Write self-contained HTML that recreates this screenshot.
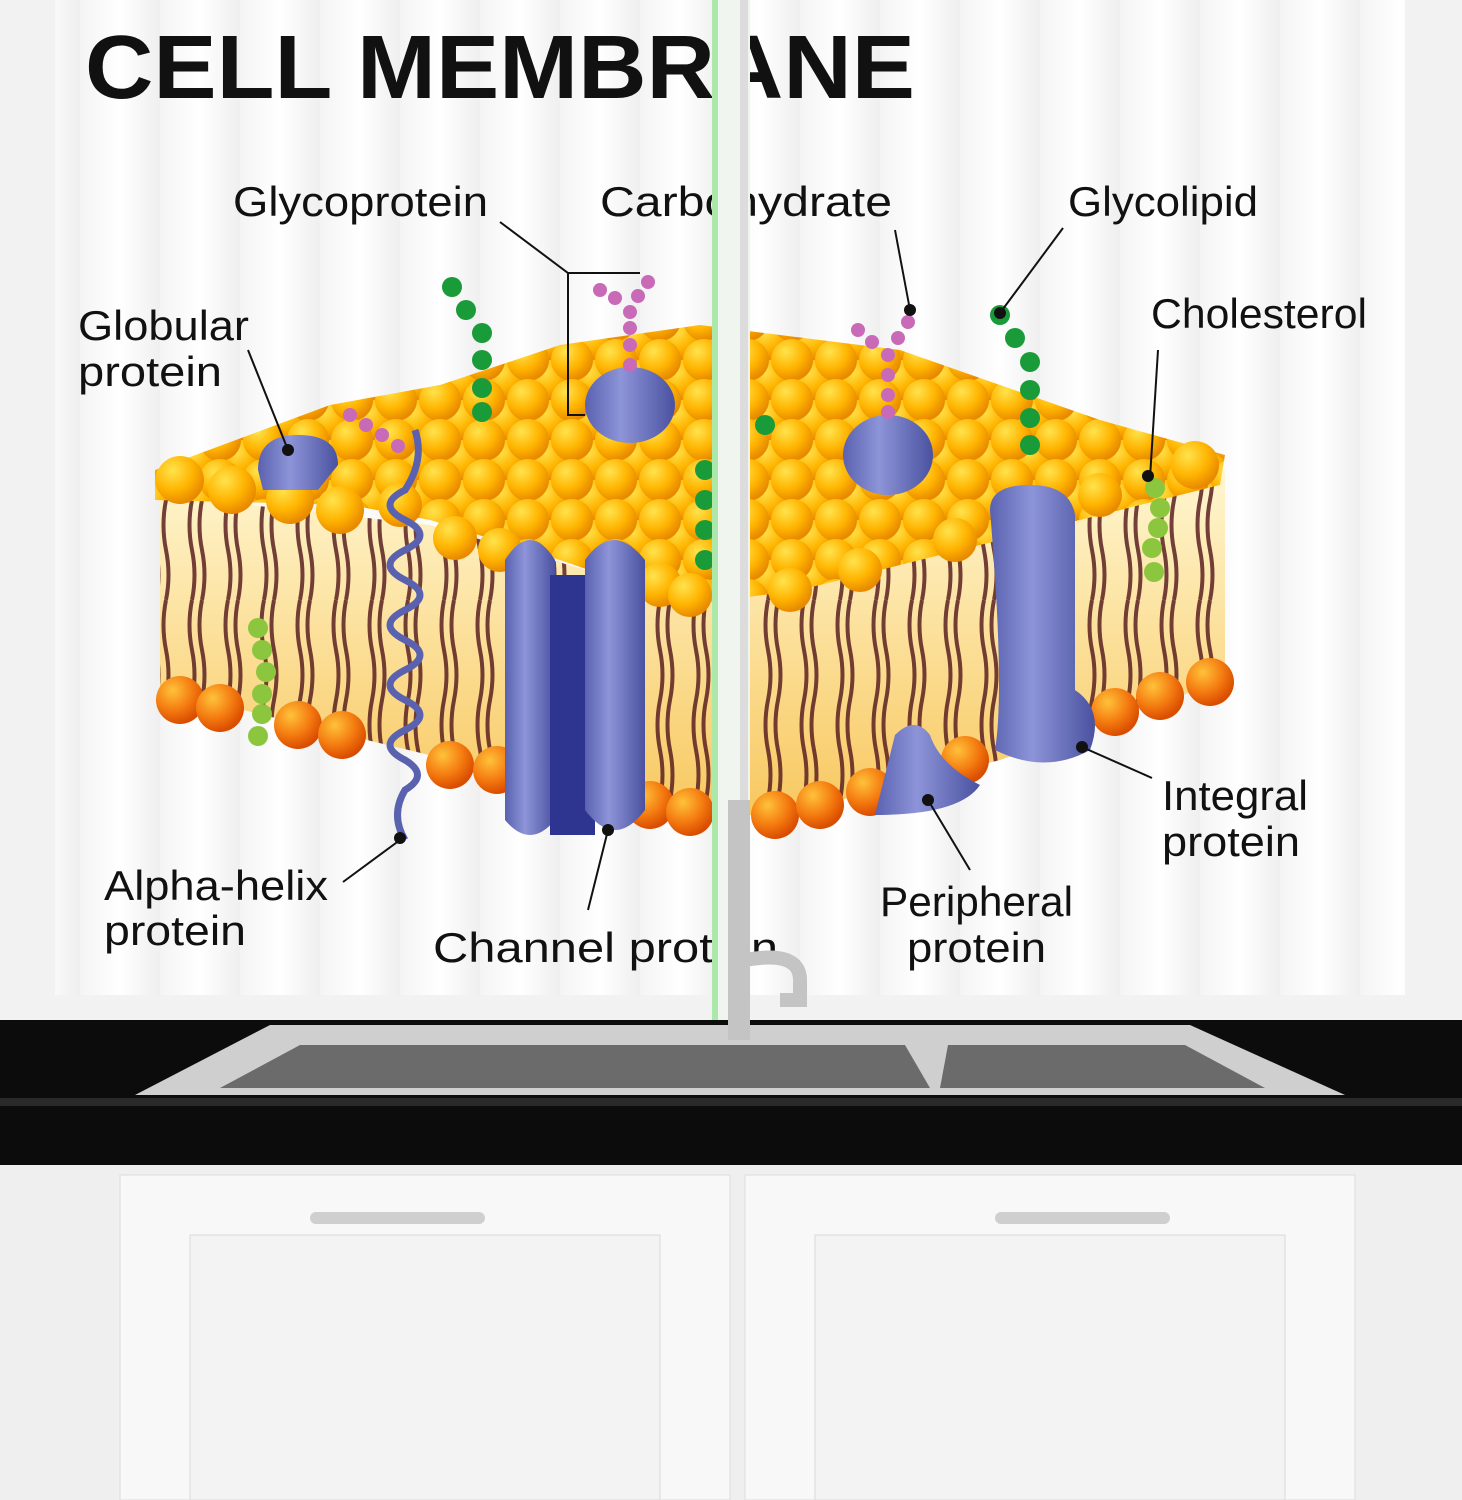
<!DOCTYPE html>
<html><head><meta charset="utf-8"><style>
html,body{margin:0;padding:0;background:#fff;}
svg{display:block;}
text{font-family:"Liberation Sans",sans-serif;fill:#111;}
</style></head><body>
<svg width="1462" height="1500" viewBox="0 0 1462 1500" xmlns="http://www.w3.org/2000/svg">
<defs>
<radialGradient id="ball" cx="0.35" cy="0.3" r="0.7">
<stop offset="0" stop-color="#ffe34d"/><stop offset="0.6" stop-color="#ffb400"/><stop offset="1" stop-color="#e88a00"/></radialGradient>
<radialGradient id="ballr" cx="0.35" cy="0.3" r="0.7">
<stop offset="0" stop-color="#ffc23a"/><stop offset="0.6" stop-color="#f47a10"/><stop offset="1" stop-color="#d94d00"/></radialGradient>
<pattern id="balls" width="44" height="40" patternUnits="userSpaceOnUse">
<rect width="44" height="40" fill="#f0a000"/>
<circle cx="22" cy="20" r="21" fill="url(#ball)"/>
<circle cx="0" cy="0" r="21" fill="url(#ball)"/><circle cx="44" cy="0" r="21" fill="url(#ball)"/>
<circle cx="0" cy="40" r="21" fill="url(#ball)"/><circle cx="44" cy="40" r="21" fill="url(#ball)"/>
</pattern>
<linearGradient id="side" x1="0" y1="0" x2="0" y2="1">
<stop offset="0" stop-color="#fff6d0"/><stop offset="1" stop-color="#f8c860"/></linearGradient>
<linearGradient id="blue" x1="0" y1="0" x2="1" y2="0">
<stop offset="0" stop-color="#5a62b0"/><stop offset="0.4" stop-color="#8d94d8"/><stop offset="1" stop-color="#4a52a0"/></linearGradient>
<pattern id="tails" width="36" height="200" patternUnits="userSpaceOnUse">
<path d="M12 0 q-5 25 0 50 q5 25 0 50 q-5 25 0 50 q5 25 0 50 M22 0 q-5 25 0 50 q5 25 0 50 q-5 25 0 50 q5 25 0 50" stroke="#5a2020" stroke-width="4" fill="none"/>
</pattern>
<linearGradient id="curt" x1="0" y1="0" x2="1" y2="0">
<stop offset="0" stop-color="#f4f4f4"/><stop offset="0.5" stop-color="#ffffff"/><stop offset="1" stop-color="#efefef"/></linearGradient>
<pattern id="folds" width="80" height="1000" patternUnits="userSpaceOnUse"><rect width="80" height="1000" fill="url(#curt)"/></pattern>
</defs>
<rect width="1462" height="1500" fill="#f2f2f2"/>
<rect x="55" y="0" width="1350" height="995" fill="url(#folds)"/>
<rect x="0" y="1020" width="1462" height="145" fill="#0c0c0c"/>
<rect x="0" y="1098" width="1462" height="8" fill="#2a2a2a"/>
<polygon points="135,1095 270,1025 1190,1025 1345,1095" fill="#cfcfcf"/>
<polygon points="220,1088 300,1045 905,1045 930,1088" fill="#6b6b6b"/>
<polygon points="940,1088 948,1045 1185,1045 1265,1088" fill="#6b6b6b"/>
<rect x="0" y="1165" width="1462" height="335" fill="#efefef"/>
<rect x="120" y="1175" width="610" height="325" fill="#f8f8f8" stroke="#dcdcdc"/>
<rect x="745" y="1175" width="610" height="325" fill="#f8f8f8" stroke="#dcdcdc"/>
<rect x="190" y="1235" width="470" height="265" fill="#f3f3f3" stroke="#dadada"/>
<rect x="815" y="1235" width="470" height="265" fill="#f3f3f3" stroke="#dadada"/>
<rect x="310" y="1212" width="175" height="12" rx="6" fill="#cfcfcf"/>
<rect x="995" y="1212" width="175" height="12" rx="6" fill="#cfcfcf"/>
<polygon points="160,495 430,525 690,600 1000,535 1225,470 1225,680 1000,760 780,815 690,815 450,760 160,690" fill="url(#side)"/>
<polygon points="160,495 430,525 690,600 1000,535 1225,470 1225,680 1000,760 780,815 690,815 450,760 160,690" fill="url(#tails)" opacity="0.85"/>
<g fill="url(#ballr)">
<circle cx="180" cy="700" r="24"/><circle cx="220" cy="708" r="24"/><circle cx="298" cy="725" r="24"/><circle cx="342" cy="735" r="24"/>
<circle cx="450" cy="765" r="24"/><circle cx="497" cy="770" r="24"/><circle cx="650" cy="805" r="24"/><circle cx="690" cy="812" r="24"/>
<circle cx="775" cy="815" r="24"/><circle cx="820" cy="805" r="24"/><circle cx="870" cy="792" r="24"/><circle cx="965" cy="760" r="24"/>
<circle cx="1115" cy="712" r="24"/><circle cx="1160" cy="696" r="24"/><circle cx="1210" cy="682" r="24"/>
</g>
<polygon points="155,470 330,405 440,385 560,345 700,325 900,350 1100,420 1225,455 1220,485 1000,540 800,590 690,605 560,560 430,520 350,505 155,500" fill="url(#balls)"/>
<g fill="url(#ball)">
<circle cx="180" cy="480" r="24"/><circle cx="232" cy="490" r="24"/><circle cx="290" cy="500" r="24"/><circle cx="340" cy="510" r="24"/>
<circle cx="400" cy="505" r="22"/><circle cx="455" cy="538" r="22"/><circle cx="500" cy="550" r="22"/><circle cx="660" cy="585" r="22"/><circle cx="690" cy="595" r="22"/>
<circle cx="790" cy="590" r="22"/><circle cx="860" cy="570" r="22"/><circle cx="955" cy="540" r="22"/><circle cx="1100" cy="495" r="22"/><circle cx="1195" cy="465" r="24"/>
</g>
<g fill="#8cc63f"><circle cx="1155" cy="488" r="10"/><circle cx="1160" cy="508" r="10"/><circle cx="1158" cy="528" r="10"/><circle cx="1152" cy="548" r="10"/><circle cx="1154" cy="572" r="10"/>
<circle cx="258" cy="628" r="10"/><circle cx="262" cy="650" r="10"/><circle cx="266" cy="672" r="10"/><circle cx="262" cy="694" r="10"/><circle cx="262" cy="714" r="10"/><circle cx="258" cy="736" r="10"/></g>
<path d="M415 430 q10 30 -10 60 q-30 15 0 30 q30 15 0 30 q-30 15 0 30 q30 15 0 30 q-30 15 0 30 q30 15 0 30 q-30 15 0 30 q30 15 0 30 q-30 15 0 30 q25 15 0 30 q-15 25 0 50" stroke="#5a62b0" stroke-width="7" fill="none"/>
<path d="M505 560 q25 -40 50 0 v260 q-25 30 -50 0 z" fill="url(#blue)"/>
<rect x="550" y="575" width="45" height="260" fill="#2e3590"/>
<path d="M585 560 q28 -40 60 0 v250 q-30 40 -60 0 z" fill="url(#blue)"/>
<path d="M990 510 q0 -25 40 -25 q40 0 45 30 v175 q30 20 15 60 q-45 25 -95 0 q10 -60 -5 -240 z" fill="url(#blue)"/>
<ellipse cx="630" cy="405" rx="45" ry="38" fill="url(#blue)"/>
<ellipse cx="888" cy="455" rx="45" ry="40" fill="url(#blue)"/>
<path d="M258 470 q0 -35 40 -35 q40 0 40 30 l-20 25 h-55 z" fill="url(#blue)"/>
<path d="M875 815 q10 -40 20 -80 q20 -20 35 0 q10 30 50 50 q-20 30 -105 30 z" fill="url(#blue)"/>
<g fill="#1a9b3a">
<circle cx="452" cy="287" r="10"/><circle cx="466" cy="310" r="10"/><circle cx="482" cy="333" r="10"/><circle cx="482" cy="360" r="10"/><circle cx="482" cy="388" r="10"/><circle cx="482" cy="412" r="10"/>
<circle cx="1000" cy="315" r="10"/><circle cx="1015" cy="338" r="10"/><circle cx="1030" cy="362" r="10"/><circle cx="1030" cy="390" r="10"/><circle cx="1030" cy="418" r="10"/><circle cx="1030" cy="445" r="10"/>
<circle cx="765" cy="425" r="10"/><circle cx="705" cy="470" r="10"/><circle cx="705" cy="500" r="10"/><circle cx="705" cy="530" r="10"/><circle cx="705" cy="560" r="10"/>
</g>
<g fill="#c86ab8">
<circle cx="600" cy="290" r="7"/><circle cx="615" cy="298" r="7"/><circle cx="648" cy="282" r="7"/><circle cx="638" cy="296" r="7"/><circle cx="630" cy="312" r="7"/><circle cx="630" cy="328" r="7"/><circle cx="630" cy="345" r="7"/><circle cx="630" cy="365" r="7"/>
<circle cx="858" cy="330" r="7"/><circle cx="872" cy="342" r="7"/><circle cx="908" cy="322" r="7"/><circle cx="898" cy="338" r="7"/><circle cx="888" cy="355" r="7"/><circle cx="888" cy="375" r="7"/><circle cx="888" cy="395" r="7"/><circle cx="888" cy="412" r="7"/>
<circle cx="350" cy="415" r="7"/><circle cx="366" cy="425" r="7"/><circle cx="382" cy="435" r="7"/><circle cx="398" cy="446" r="7"/>
</g>
<g stroke="#111" stroke-width="2" fill="none">
<path d="M500 222 L568 273 H640 M568 273 V415 H585"/>
<path d="M895 230 L910 310"/>
<path d="M1063 228 L1000 313"/>
<path d="M1158 350 L1150 478"/>
<path d="M248 350 L288 450"/>
<path d="M343 882 L400 840"/>
<path d="M588 910 L608 830"/>
<path d="M970 870 L928 800"/>
<path d="M1152 778 L1082 747"/>
</g>
<g fill="#111"><circle cx="910" cy="310" r="6"/><circle cx="1000" cy="313" r="6"/><circle cx="1148" cy="476" r="6"/><circle cx="288" cy="450" r="6"/><circle cx="400" cy="838" r="6"/><circle cx="608" cy="830" r="6"/><circle cx="928" cy="800" r="6"/><circle cx="1082" cy="747" r="6"/></g>
<text x="85" y="98" font-size="90" font-weight="bold" textLength="830" lengthAdjust="spacingAndGlyphs">CELL MEMBRANE</text>
<g font-size="42">
<text x="233" y="216" textLength="255" lengthAdjust="spacingAndGlyphs">Glycoprotein</text>
<text x="600" y="216" textLength="292" lengthAdjust="spacingAndGlyphs">Carbohydrate</text>
<text x="1068" y="216" textLength="190" lengthAdjust="spacingAndGlyphs">Glycolipid</text>
<text x="1151" y="328" textLength="216" lengthAdjust="spacingAndGlyphs">Cholesterol</text>
<text x="78" y="340" textLength="171" lengthAdjust="spacingAndGlyphs">Globular</text>
<text x="78" y="386" textLength="144" lengthAdjust="spacingAndGlyphs">protein</text>
<text x="104" y="900" textLength="224" lengthAdjust="spacingAndGlyphs">Alpha-helix</text>
<text x="104" y="945" textLength="142" lengthAdjust="spacingAndGlyphs">protein</text>
<text x="433" y="962" textLength="345" lengthAdjust="spacingAndGlyphs">Channel protein</text>
<text x="880" y="916" textLength="193" lengthAdjust="spacingAndGlyphs">Peripheral</text>
<text x="907" y="962" textLength="139" lengthAdjust="spacingAndGlyphs">protein</text>
<text x="1162" y="810" textLength="146" lengthAdjust="spacingAndGlyphs">Integral</text>
<text x="1162" y="856" textLength="138" lengthAdjust="spacingAndGlyphs">protein</text>
</g>
<rect x="712" y="0" width="38" height="1020" fill="#f0f5f0"/>
<rect x="712" y="0" width="6" height="1020" fill="#7de07a" opacity="0.6"/>
<rect x="740" y="0" width="8" height="1020" fill="#dcdcdc"/>
<rect x="728" y="800" width="22" height="240" fill="#c4c4c4"/>
<path d="M745 960 q55 -10 55 20 v20 h-20" stroke="#c4c4c4" stroke-width="14" fill="none"/>
</svg>
</body></html>
